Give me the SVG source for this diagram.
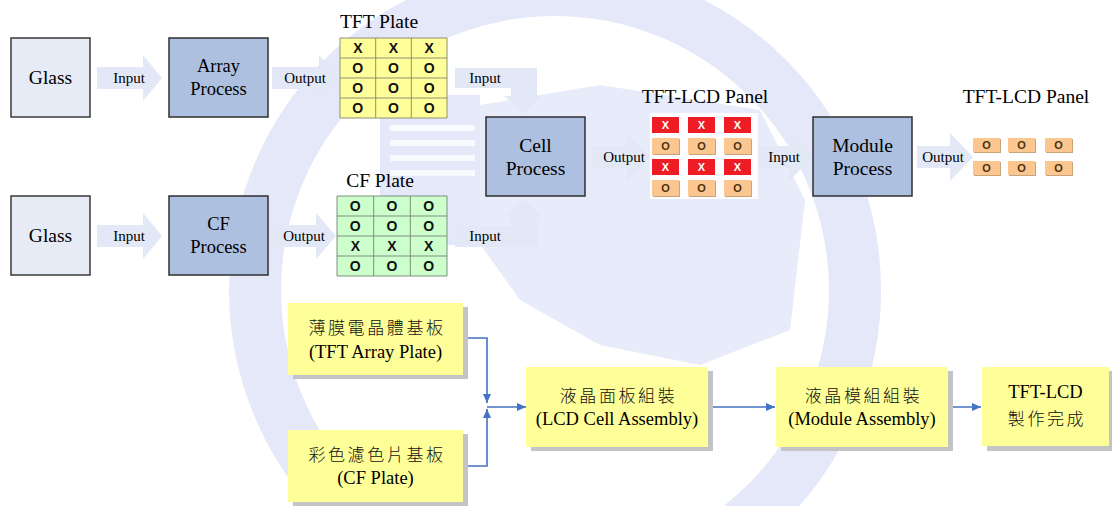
<svg xmlns="http://www.w3.org/2000/svg" width="1112" height="506" viewBox="0 0 1112 506">
<style>
.lbl{font-family:'Liberation Serif','Times New Roman',serif;fill:#000;text-anchor:middle}
.cjk{font-family:'Liberation Serif','Noto Sans CJK TC',serif;fill:#111;text-anchor:middle;font-size:17px;letter-spacing:2.6px;font-weight:300}
.glass{fill:#e6ebf6;stroke:#3a3a3a;stroke-width:1.5}
.proc{fill:#aec0e0;stroke:#2f2f2f;stroke-width:1.5}
.barrow{fill:#e2e8f5}
.sm{font-size:15px}
.big{font-size:19.5px}
.mid{font-size:18.5px}
.g{font-family:'Liberation Sans',Arial,sans-serif;font-weight:bold;font-size:14px;text-anchor:middle;fill:#111}
.gw{font-family:'Liberation Sans',Arial,sans-serif;font-weight:bold;font-size:11px;text-anchor:middle}
.ybox{fill:#ffff99}
.yshadow{fill:#c4c4c4}
.conn{fill:none;stroke:#4472c4;stroke-width:1.6}
.red{fill:#ee1c24}
.org{fill:#fbc68f}
.cshadow{fill:#c9a47a}
</style>
<defs>
<marker id="ah" markerWidth="10" markerHeight="10" refX="9" refY="5" orient="auto" markerUnits="userSpaceOnUse">
<path d="M0,1 L9,5 L0,9 Z" fill="#4472c4"/>
</marker>
</defs>
<rect width="1112" height="506" fill="#ffffff"/>
<g id="watermark" opacity="0.6">
<circle cx="555" cy="290" r="300" fill="none" stroke="#d3daf4" stroke-width="52"/>
<polygon points="480,105 600,85 760,110 805,200 790,330 700,365 600,345 520,300 470,230" fill="#d9dff6"/>
<rect x="380" y="95" width="100" height="150" fill="#d3daf4"/>
<g fill="#ffffff" opacity="0.8">
<rect x="390" y="125" width="85" height="6"/>
<rect x="390" y="140" width="85" height="6"/>
<rect x="390" y="155" width="85" height="6"/>
<rect x="390" y="170" width="85" height="6"/>
</g>
</g>

<g id="connectors">
<path class="barrow" d="M97,67 H143 V55 L162,78 L143,101 V89 H97 Z"/>
<path class="barrow" d="M272,67 H319 V55 L339,78 L319,101 V89 H272 Z"/>
<path class="barrow" d="M97,225 H143 V213 L162,236 L143,259 V247 H97 Z"/>
<path class="barrow" d="M272,225 H316 V213 L336,236 L316,259 V247 H272 Z"/>
<path class="barrow" d="M455,68 H537 V96 H542 L523,113 L504,96 H511 V88 H455 Z"/>
<path class="barrow" d="M455,247 H537 V217 H542 L523,199 L504,217 H511 V226 H455 Z"/>
<path class="barrow" d="M592,146 H627 V133 L650,157 L627,181 V168 H592 Z"/>
<path class="barrow" d="M757,146 H789 V133 L813,157 L789,181 V168 H757 Z"/>
<path class="barrow" d="M917,146 H950 V133 L973,157 L950,181 V168 H917 Z"/>
<text class="lbl sm" x="129" y="83">Input</text>
<text class="lbl sm" x="305" y="83">Output</text>
<text class="lbl sm" x="129" y="241">Input</text>
<text class="lbl sm" x="304" y="241">Output</text>
<text class="lbl sm" x="485" y="83">Input</text>
<text class="lbl sm" x="485" y="241">Input</text>
<text class="lbl sm" x="624" y="162">Output</text>
<text class="lbl sm" x="784" y="162">Input</text>
<text class="lbl sm" x="943" y="162">Output</text>
<path class="conn" d="M463,338 H487 V403" marker-end="url(#ah)"/>
<path class="conn" d="M463,466 H487 V409" marker-end="url(#ah)"/>
<path class="conn" d="M487,407 H526" marker-end="url(#ah)"/>
<path class="conn" d="M708,407 H775" marker-end="url(#ah)"/>
<path class="conn" d="M948,407 H981" marker-end="url(#ah)"/>
</g>

<g id="glass1"><rect class="glass" x="11" y="38" width="79" height="79"/><text class="lbl big" x="50.5" y="84">Glass</text></g>
<g id="array"><rect class="proc" x="169" y="38" width="99" height="79"/><text class="lbl mid" x="218.5" y="72">Array</text><text class="lbl mid" x="218.5" y="95">Process</text></g>
<g id="glass2"><rect class="glass" x="11" y="196" width="79" height="79"/><text class="lbl big" x="50.5" y="242">Glass</text></g>
<g id="cf"><rect class="proc" x="169" y="196" width="99" height="79"/><text class="lbl mid" x="218.5" y="230">CF</text><text class="lbl mid" x="218.5" y="253">Process</text></g>
<g id="cell"><rect class="proc" x="486" y="117" width="99" height="79"/><text class="lbl big" x="535.5" y="152">Cell</text><text class="lbl big" x="535.5" y="175">Process</text></g>
<g id="module"><rect class="proc" x="813" y="117" width="99" height="79"/><text class="lbl big" x="862.5" y="152">Module</text><text class="lbl big" x="862.5" y="175">Process</text></g>

<g id="tftplate">
<text class="lbl big" x="379" y="28">TFT Plate</text>
<rect x="340" y="38" width="107" height="80" fill="#ffff99"/>
<path d="M340,38 H447 V118 H340 Z M375.7,38 V118 M411.3,38 V118 M340,58 H447 M340,78 H447 M340,98 H447" fill="none" stroke="#8f8f78" stroke-width="1"/>
<text class="g" x="357.8" y="53">X</text><text class="g" x="393.5" y="53">X</text><text class="g" x="429.2" y="53">X</text>
<text class="g" x="357.8" y="73">O</text><text class="g" x="393.5" y="73">O</text><text class="g" x="429.2" y="73">O</text>
<text class="g" x="357.8" y="93">O</text><text class="g" x="393.5" y="93">O</text><text class="g" x="429.2" y="93">O</text>
<text class="g" x="357.8" y="113">O</text><text class="g" x="393.5" y="113">O</text><text class="g" x="429.2" y="113">O</text>
</g>

<g id="cfplate">
<text class="lbl big" x="380" y="187">CF Plate</text>
<rect x="337" y="196" width="110" height="80" fill="#ccffcc"/>
<path d="M337,196 H447 V276 H337 Z M373.7,196 V276 M410.3,196 V276 M337,216 H447 M337,236 H447 M337,256 H447" fill="none" stroke="#7f8f7f" stroke-width="1"/>
<text class="g" x="355.3" y="211">O</text><text class="g" x="392" y="211">O</text><text class="g" x="428.7" y="211">O</text>
<text class="g" x="355.3" y="231">O</text><text class="g" x="392" y="231">O</text><text class="g" x="428.7" y="231">O</text>
<text class="g" x="355.3" y="251">X</text><text class="g" x="392" y="251">X</text><text class="g" x="428.7" y="251">X</text>
<text class="g" x="355.3" y="271">O</text><text class="g" x="392" y="271">O</text><text class="g" x="428.7" y="271">O</text>
</g>

<g id="panel1">
<text class="lbl big" x="705" y="103">TFT-LCD Panel</text>
<rect x="650" y="113" width="108" height="86" fill="#ffffff" opacity="0.9"/>
<g>
<rect class="red" x="652" y="117" width="27" height="16"/><rect class="red" x="688" y="117" width="27" height="16"/><rect class="red" x="724" y="117" width="27" height="16"/>
<rect class="red" x="652" y="159" width="27" height="16"/><rect class="red" x="688" y="159" width="27" height="16"/><rect class="red" x="724" y="159" width="27" height="16"/>
<rect class="cshadow" x="653" y="139" width="27" height="16"/><rect class="cshadow" x="689" y="139" width="27" height="16"/><rect class="cshadow" x="725" y="139" width="27" height="16"/>
<rect class="cshadow" x="653" y="181" width="27" height="16"/><rect class="cshadow" x="689" y="181" width="27" height="16"/><rect class="cshadow" x="725" y="181" width="27" height="16"/>
<rect class="org" x="652" y="138" width="27" height="16"/><rect class="org" x="688" y="138" width="27" height="16"/><rect class="org" x="724" y="138" width="27" height="16"/>
<rect class="org" x="652" y="180" width="27" height="16"/><rect class="org" x="688" y="180" width="27" height="16"/><rect class="org" x="724" y="180" width="27" height="16"/>
</g>
<g class="gw" fill="#ffffff">
<text x="665.5" y="129">X</text><text x="701.5" y="129">X</text><text x="737.5" y="129">X</text>
<text x="665.5" y="171">X</text><text x="701.5" y="171">X</text><text x="737.5" y="171">X</text>
</g>
<g class="gw" fill="#4a3010">
<text x="665.5" y="150">O</text><text x="701.5" y="150">O</text><text x="737.5" y="150">O</text>
<text x="665.5" y="192">O</text><text x="701.5" y="192">O</text><text x="737.5" y="192">O</text>
</g>
</g>

<g id="panel2">
<text class="lbl big" x="1026" y="103">TFT-LCD Panel</text>
<rect class="cshadow" x="974" y="139" width="27" height="14"/><rect class="cshadow" x="1009" y="139" width="27" height="14"/><rect class="cshadow" x="1046" y="139" width="27" height="14"/>
<rect class="cshadow" x="974" y="162" width="27" height="14"/><rect class="cshadow" x="1009" y="162" width="27" height="14"/><rect class="cshadow" x="1046" y="162" width="27" height="14"/>
<rect class="org" x="973" y="138" width="27" height="14"/><rect class="org" x="1008" y="138" width="27" height="14"/><rect class="org" x="1045" y="138" width="27" height="14"/>
<rect class="org" x="973" y="161" width="27" height="14"/><rect class="org" x="1008" y="161" width="27" height="14"/><rect class="org" x="1045" y="161" width="27" height="14"/>
<g class="gw" fill="#4a3010">
<text x="986.5" y="149">O</text><text x="1021.5" y="149">O</text><text x="1058.5" y="149">O</text>
<text x="986.5" y="172">O</text><text x="1021.5" y="172">O</text><text x="1058.5" y="172">O</text>
</g>
</g>

<g id="tftarray">
<rect class="yshadow" x="293" y="307" width="175" height="72"/>
<rect class="ybox" x="288" y="303" width="175" height="72"/>
<text class="cjk" x="377" y="334">薄膜電晶體基板</text>
<text class="lbl mid" x="375.5" y="358">(TFT Array Plate)</text>
</g>
<g id="cfplate2">
<rect class="yshadow" x="293" y="434" width="175" height="72"/>
<rect class="ybox" x="288" y="430" width="175" height="72"/>
<text class="cjk" x="377" y="461">彩色濾色片基板</text>
<text class="lbl mid" x="375.5" y="484">(CF Plate)</text>
</g>
<g id="cellasm">
<rect class="yshadow" x="531" y="371" width="182" height="80"/>
<rect class="ybox" x="526" y="367" width="182" height="80"/>
<text class="cjk" x="618.5" y="402">液晶面板組裝</text>
<text class="lbl mid" x="617" y="425">(LCD Cell Assembly)</text>
</g>
<g id="moduleasm">
<rect class="yshadow" x="781" y="371" width="172" height="80"/>
<rect class="ybox" x="776" y="367" width="172" height="80"/>
<text class="cjk" x="863.5" y="402">液晶模組組裝</text>
<text class="lbl mid" x="862" y="425">(Module Assembly)</text>
</g>
<g id="done">
<rect class="yshadow" x="987" y="371" width="125" height="80"/>
<rect class="ybox" x="982" y="367" width="127" height="79"/>
<text class="lbl mid" x="1045.5" y="398">TFT-LCD</text>
<text class="cjk" x="1047" y="425">製作完成</text>
</g>
</svg>
